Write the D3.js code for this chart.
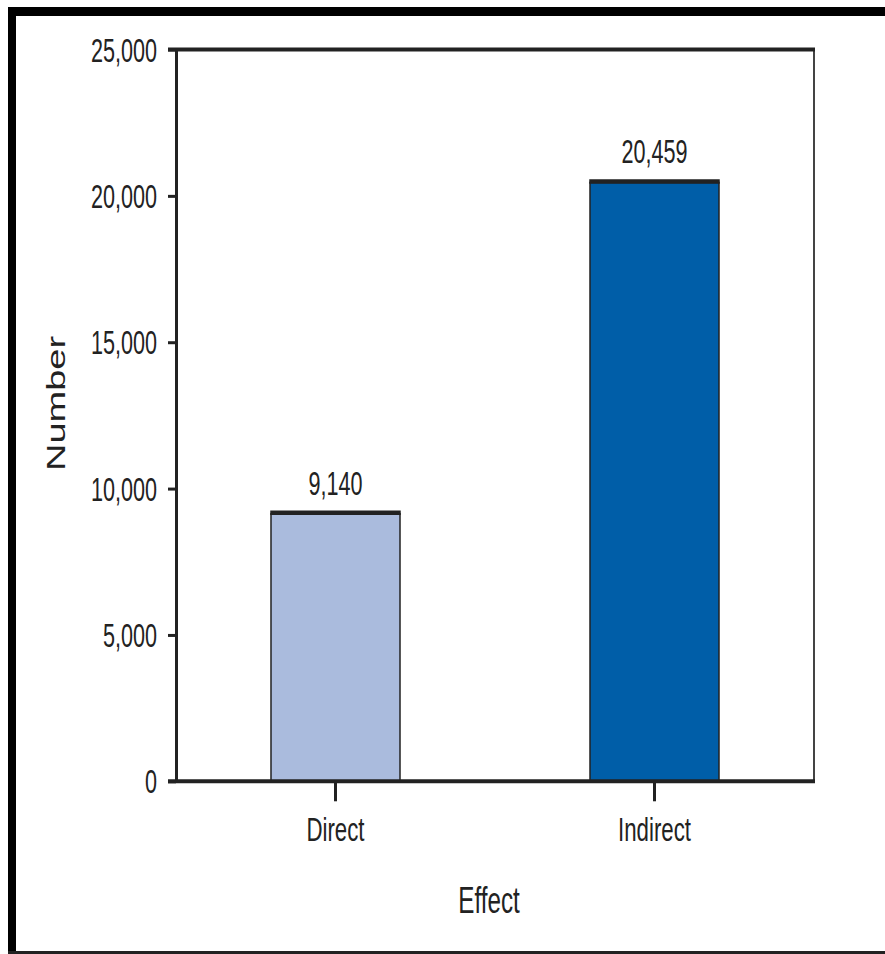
<!DOCTYPE html>
<html>
<head>
<meta charset="utf-8">
<script src="https://cdn.jsdelivr.net/npm/d3@7"></script>
<style>
  html, body { margin: 0; padding: 0; background: #fff; }
  svg { display: block; }
  text { font-family: "Liberation Sans", Arial, Helvetica, sans-serif; fill: #222; }
</style>
</head>
<body>
<script>
// ---- data ----
const categories = ["Direct", "Indirect"];
const values = [9140, 20459];
const barColors = ["#aabbdd", "#005ea8"];
const yTicks = [0, 5000, 10000, 15000, 20000, 25000];
const xTitle = "Effect";
const yTitle = "Number";

(function () {
const W = 885, H = 954;
const sx = 0.655; // horizontal text compression seen in the reference

const svg = d3.select("body").append("svg").attr("width", W).attr("height", H);

// outer frame
svg.append("rect").attr("x", 8).attr("y", 7).attr("width", W - 8).attr("height", 9).attr("fill", "#000");
svg.append("rect").attr("x", 8).attr("y", 7).attr("width", 8).attr("height", H - 7).attr("fill", "#000");
svg.append("rect").attr("x", 8).attr("y", 951).attr("width", W - 8).attr("height", 3).attr("fill", "#222");

const pL = 176, pR = 814, pT = 49.5, pB = 781.3;

const y = d3.scaleLinear().domain([0, 25000]).range([pB, pT]);
const x = d3.scaleBand().domain(categories).range([pL, pR]).paddingInner(0.5956).paddingOuter(0.2978);

// right frame line
svg.append("line").attr("x1", pR).attr("x2", pR).attr("y1", pT).attr("y2", pB)
  .attr("stroke", "#444").attr("stroke-width", 2);

// bars
const bars = svg.append("g");
categories.forEach((c, i) => {
  bars.append("rect")
    .attr("x", x(c)).attr("y", y(values[i]))
    .attr("width", x.bandwidth()).attr("height", y(0) - y(values[i]))
    .attr("fill", barColors[i]).attr("stroke", "#222").attr("stroke-width", 1.5);
  bars.append("line")
    .attr("x1", x(c) - 0.75).attr("x2", x(c) + x.bandwidth() + 0.75)
    .attr("y1", y(values[i]) - 1).attr("y2", y(values[i]) - 1)
    .attr("stroke", "#222").attr("stroke-width", 4.5);
  bars.append("text")
    .attr("transform", `translate(${x(c) + x.bandwidth() / 2},${y(values[i]) - 19}) scale(${sx},1)`)
    .attr("text-anchor", "middle").attr("font-size", 33)
    .text(d3.format(",")(values[i]));
});

// left axis
const yAxis = svg.append("g").attr("transform", `translate(${pL},0)`)
  .call(d3.axisLeft(y).tickValues(yTicks).tickFormat(d3.format(",")).tickSize(8).tickSizeOuter(0));
yAxis.select(".domain").attr("stroke", "#222").attr("stroke-width", 3);
yAxis.selectAll(".tick line").attr("stroke", "#222").attr("stroke-width", 3);
yAxis.selectAll(".tick text")
  .attr("x", -19 / sx).attr("dy", "0.35em")
  .attr("transform", `scale(${sx},1)`)
  .attr("font-size", 33).attr("font-family", null).attr("fill", "#222");

// x axis
const xAxis = svg.append("g").attr("transform", `translate(0,${pB})`)
  .call(d3.axisBottom(x).tickSize(20).tickSizeOuter(0));
xAxis.select(".domain").remove();
xAxis.selectAll(".tick line").attr("stroke", "#222").attr("stroke-width", 3);
xAxis.selectAll(".tick text")
  .attr("y", 60).attr("dy", 0)
  .attr("transform", `scale(${sx},1)`)
  .attr("font-size", 34).attr("font-family", null).attr("fill", "#222");

// top and bottom frame lines
svg.append("line").attr("x1", 168).attr("x2", pR + 1).attr("y1", pT).attr("y2", pT)
  .attr("stroke", "#222").attr("stroke-width", 4);
svg.append("line").attr("x1", 168).attr("x2", pR + 1).attr("y1", pB).attr("y2", pB)
  .attr("stroke", "#222").attr("stroke-width", 4);

// titles
svg.append("text")
  .attr("transform", `translate(489,913) scale(${sx},1)`)
  .attr("text-anchor", "middle").attr("font-size", 37).text(xTitle);
svg.append("text")
  .attr("transform", `translate(65,403.5) scale(0.68,1) rotate(-90)`)
  .attr("text-anchor", "middle").attr("font-size", 38).text(yTitle);
})();
</script>
</body>
</html>
